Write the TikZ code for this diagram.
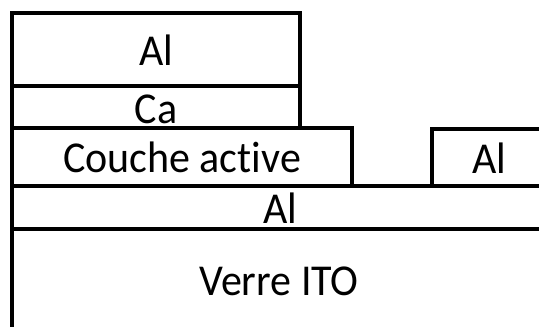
\documentclass[tikz,border=0pt]{standalone}
\usepackage{fontspec}
\setmainfont{Carlito}[Ligatures=NoCommon]
\begin{document}
\begin{tikzpicture}[x=1pt,y=-1pt,
  layer/.style={line width=4pt,line cap=rect,line join=miter},
  lbl/.style={font=\fontsize{42}{42}\selectfont,anchor=base,inner sep=0pt}]
\useasboundingbox (0,0) rectangle (539,327);
% coordinates
\coordinate (tl) at (12,13);
\coordinate (tr) at (300,13);
\coordinate (b1l) at (12,86);
\coordinate (b1r) at (300,86);
\coordinate (b2l) at (12,128);
\coordinate (b2r) at (300,128);
\coordinate (cr) at (352,128);
\coordinate (cb) at (352,186);
\coordinate (rl) at (432,186);
\coordinate (rt) at (432,129);
\coordinate (rr) at (541,129);
\coordinate (l3l) at (12,186);
\coordinate (l3r) at (541,186);
\coordinate (l4l) at (12,229);
\coordinate (l4r) at (541,229);
\coordinate (bot) at (12,330);
% lines
\draw[layer] (bot) -- (tl) -- (tr) -- (b2r);
\draw[layer] (b1l) -- (b1r);
\draw[layer] (b2l) -- (cr) -- (cb);
\draw[layer] (rl) -- (rt) -- (rr);
\draw[layer] (l3l) -- (l3r);
\draw[layer] (l4l) -- (l4r);
% labels
\node[lbl] (al1) at (156,65) {\scalebox{1}[1.05]{Al}};
\node[lbl] (ca) at (156,123) {\scalebox{1}[1.05]{Ca}};
\node[lbl] (ca2) at (182,172) {\scalebox{1}[1.05]{Couche act\kern0pt ive}};
\node[lbl] (al2) at (489,173) {\scalebox{1}[1.05]{Al}};
\node[lbl] (al3) at (280,223) {\scalebox{1}[1.05]{Al}};
\node[lbl] (ito) at (279,295) {\scalebox{1}[1.05]{Verre ITO}};
\end{tikzpicture}
\end{document}
